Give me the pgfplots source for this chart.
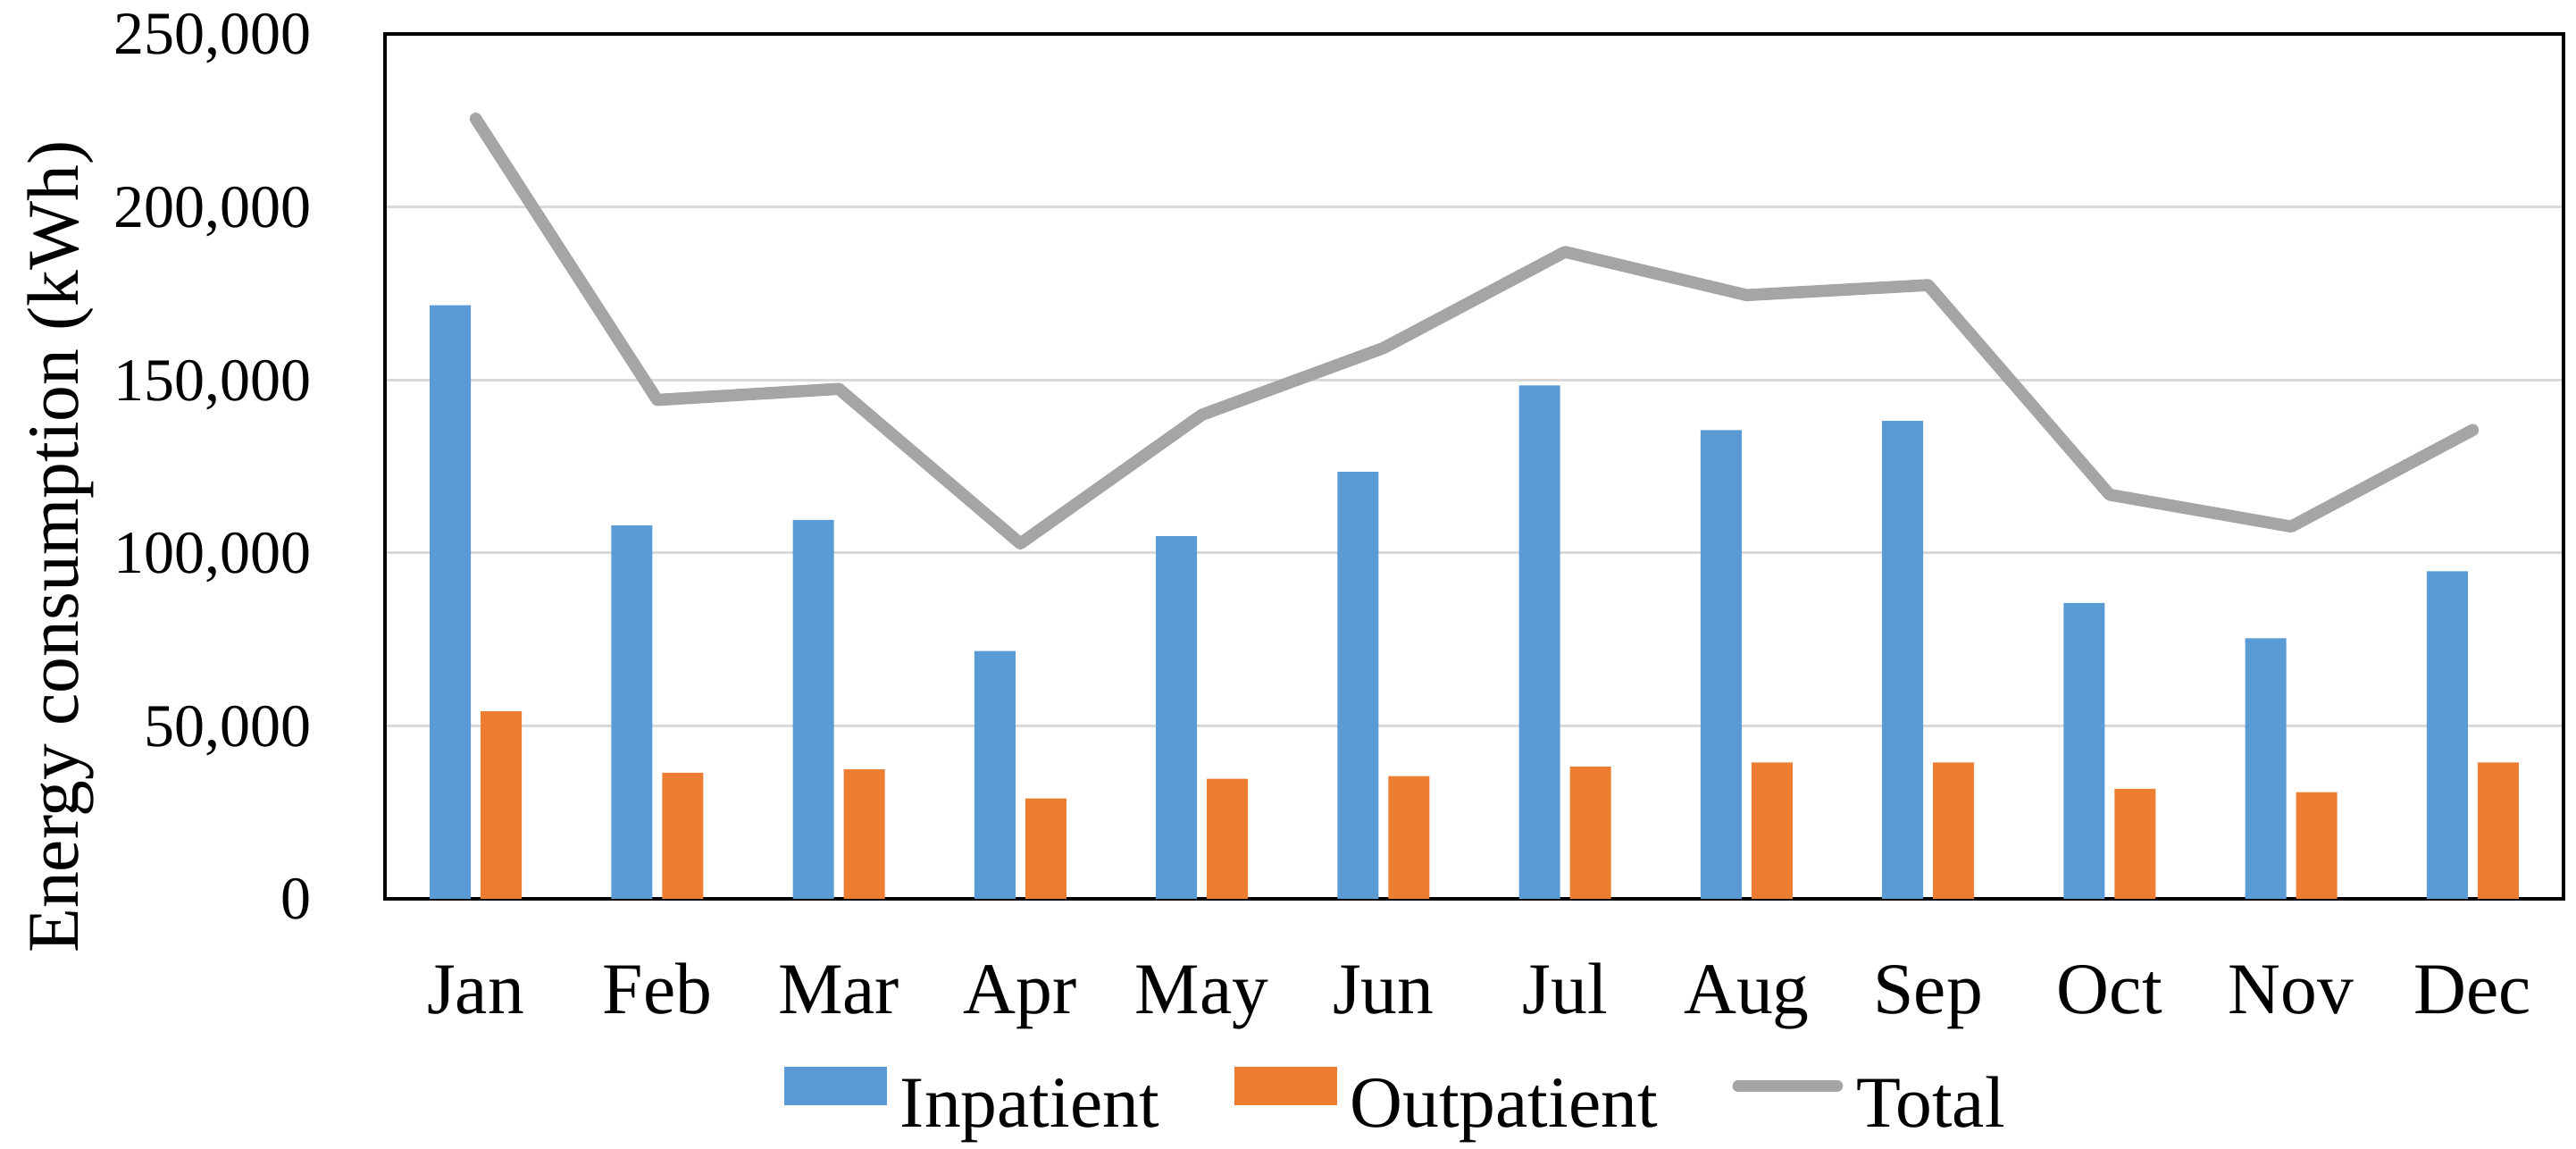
\documentclass[border=0pt]{standalone}
\usepackage{fontspec}
\setmainfont{Liberation Serif}
\setsansfont{Liberation Serif}
\usepackage{pgfplots}
\usepackage{pgfplotstable}
\pgfplotsset{compat=1.18}
\definecolor{inblue}{HTML}{5B9BD5}
\definecolor{outorange}{HTML}{ED7D31}
\definecolor{totgray}{HTML}{A5A5A5}
\definecolor{gridgray}{HTML}{D9D9D9}

\pgfplotstableread{
m in out tot
0 171600 54200 225500
1 107900 36450 144200
2 109500 37400 147400
3 71600 29000 102700
4 104800 34700 139900
5 123400 35500 159200
6 148400 38200 187000
7 135500 39400 174500
8 138100 39400 177400
9 85500 31800 116800
10 75300 30800 107600
11 94700 39400 135500
}\datatable

\begin{document}
\begin{tikzpicture}
\begin{axis}[
  name=ax,
  scale only axis, width=358.68pt, height=142.35pt,
  xmin=-0.5, xmax=11.5, ymin=0, ymax=250000,
  xtick={0,1,2,3,4,5,6,7,8,9,10,11},
  xticklabels={Jan,Feb,Mar,Apr,May,Jun,Jul,Aug,Sep,Oct,Nov,Dec},
  ytick={0,50000,100000,150000,200000,250000},
  scaled y ticks=false,
  major tick length=0pt,
  axis line style={black, line width=0.55pt},
  ymajorgrids, grid style={gridgray, line width=0.45pt},
  xticklabel style={font=\rmfamily\fontsize{12}{14}\selectfont, anchor=base, inner sep=0pt, yshift=-18.97pt},
  yticklabel style={font=\rmfamily\fontsize{10}{12}\selectfont, anchor=base east, inner sep=0pt, xshift=-11.9pt, yshift=-3.38pt, /pgf/number format/.cd, fixed, 1000 sep={,}, assume math mode=true},
  ylabel={Energy consumption (kWh)},
  ylabel style={font=\rmfamily\fontsize{12}{14}\selectfont, at={(axis description cs:-0.1488,0.407)}, anchor=center},
  legend columns=3,
  legend style={at={(axis description cs:0.1833,-0.1945)}, anchor=north west, draw=none, fill=none, inner sep=0pt, outer sep=0pt, font=\rmfamily\fontsize{12}{14}\selectfont, nodes={inner sep=0pt, text height=8.5pt, text depth=2.6pt}, /tikz/every odd column/.append style={column sep=2.2pt}, /tikz/every even column/.append style={column sep=12.3pt}},
]
\addplot[ybar, bar width=0.226, bar shift=-0.14, fill=inblue, draw=none,
  legend image code/.code={\fill[inblue] (0pt,0.59pt) rectangle (16.9pt,6.91pt);}]
  table[x=m, y=in] {\datatable};
\addlegendentry{Inpatient}
\addplot[ybar, bar width=0.226, bar shift=0.14, fill=outorange, draw=none,
  legend image code/.code={\fill[outorange] (0pt,0.59pt) rectangle (16.9pt,6.91pt);}]
  table[x=m, y=out] {\datatable};
\addlegendentry{Outpatient}
\addplot[totgray, line width=2pt, line cap=round, line join=round, mark=none, sharp plot,
  legend image code/.code={\draw[totgray, line width=1.9pt, line cap=round] (0.95pt,3.8pt) -- (17.25pt,3.8pt);}]
  table[x=m, y=tot] {\datatable};
\addlegendentry{Total}
\end{axis}
\path ([xshift=-63.38pt,yshift=-41.18pt]ax.south west) rectangle ([xshift=2.06pt,yshift=5.59pt]ax.north east);
\end{tikzpicture}
\end{document}
